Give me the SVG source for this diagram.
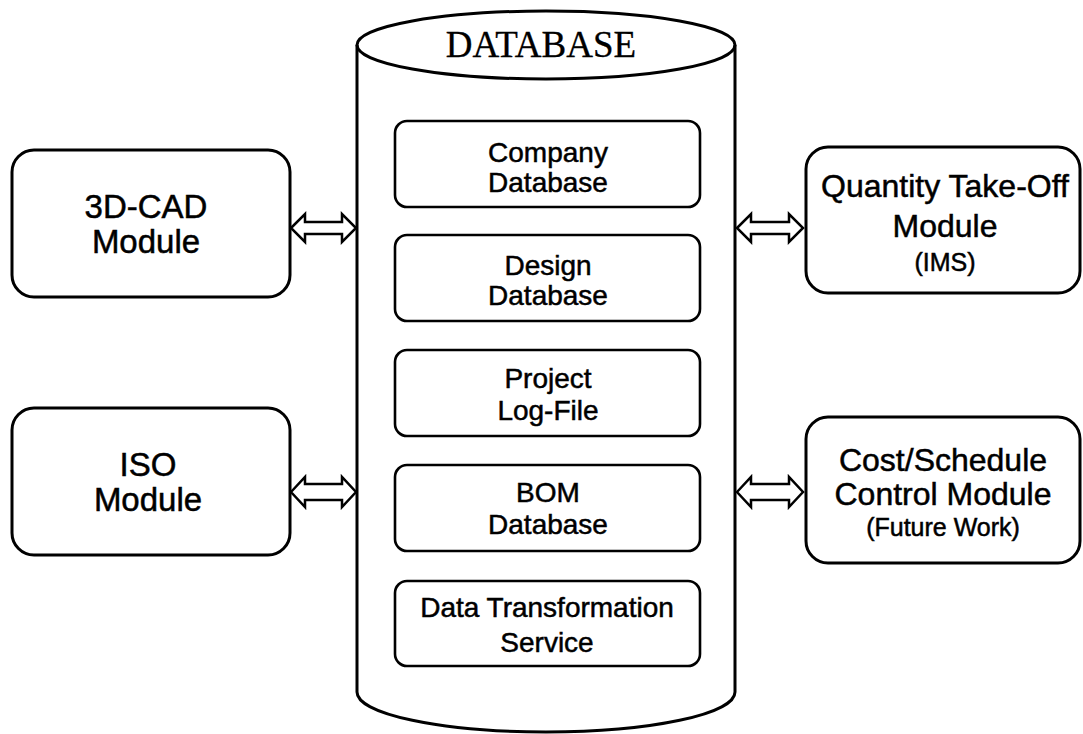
<svg xmlns="http://www.w3.org/2000/svg" width="1083" height="734" viewBox="0 0 1083 734">
  <style>
    .box { fill: #fff; stroke: #000; stroke-width: 3; }
    .inner { fill: #fff; stroke: #000; stroke-width: 2.6; }
    .arrow { fill: #fff; stroke: #000; stroke-width: 2.5; stroke-linejoin: miter; }
    .cyl { fill: none; stroke: #000; stroke-width: 3; }
    text { font-family: "Liberation Sans", Arial, sans-serif; fill: #000; stroke: #000; stroke-width: 0.5; text-anchor: middle; }
    .t-in { font-size: 28px; }
    .t-side { font-size: 33px; }
    .t-right { font-size: 32px; }
    .t-small { font-size: 25px; }
    .t-db { font-family: "Liberation Serif", "Times New Roman", serif; font-size: 37px; stroke-width: 0.3; }
  </style>
  <rect width="1083" height="734" fill="#fff"/>

  <!-- central database cylinder -->
  <g id="database">
    <path class="cyl" d="M357,45 L357,692 A189,40 0 0 0 735,692 L735,45"/>
    <ellipse class="cyl" cx="546" cy="45" rx="189" ry="34" fill="#fff"/>
    <text class="t-db" x="541" y="57">DATABASE</text>
  </g>

  <g id="company-db">
    <rect class="inner" x="395" y="121" width="305" height="86" rx="12"/>
    <text class="t-in" x="548" y="162">Company</text>
    <text class="t-in" x="548" y="192">Database</text>
  </g>
  <g id="design-db">
    <rect class="inner" x="395" y="235" width="305" height="86" rx="12"/>
    <text class="t-in" x="548" y="275">Design</text>
    <text class="t-in" x="548" y="305">Database</text>
  </g>
  <g id="project-log">
    <rect class="inner" x="395" y="350" width="305" height="86" rx="12"/>
    <text class="t-in" x="548" y="388">Project</text>
    <text class="t-in" x="548" y="420">Log-File</text>
  </g>
  <g id="bom-db">
    <rect class="inner" x="395" y="465" width="305" height="86" rx="12"/>
    <text class="t-in" x="548" y="502">BOM</text>
    <text class="t-in" x="548" y="534">Database</text>
  </g>
  <g id="data-transform">
    <rect class="inner" x="395" y="581" width="305" height="85" rx="12"/>
    <text class="t-in" x="547" y="617">Data Transformation</text>
    <text class="t-in" x="547" y="652">Service</text>
  </g>

  <!-- outer modules -->
  <g id="cad-module">
    <rect class="box" x="12" y="150" width="278" height="147" rx="22"/>
    <text class="t-side" x="146" y="218">3D-CAD</text>
    <text class="t-side" x="146" y="253">Module</text>
  </g>
  <g id="iso-module">
    <rect class="box" x="12" y="408" width="278" height="147" rx="22"/>
    <text class="t-side" x="148" y="476">ISO</text>
    <text class="t-side" x="148" y="511">Module</text>
  </g>
  <g id="qto-module">
    <rect class="box" x="806" y="147" width="274" height="146" rx="22"/>
    <text class="t-right" x="945" y="197">Quantity Take-Off</text>
    <text class="t-right" x="945" y="237">Module</text>
    <text class="t-small" x="945" y="271">(IMS)</text>
  </g>
  <g id="cost-module">
    <rect class="box" x="806" y="417" width="274" height="146" rx="22"/>
    <text class="t-right" x="943" y="471">Cost/Schedule</text>
    <text class="t-right" x="943" y="505">Control Module</text>
    <text class="t-small" x="943" y="536">(Future Work)</text>
  </g>

  <!-- two-way links between modules and the database -->
  <g id="connectors">
    <path class="arrow" d="M291,228 L305,214 L305,222 L342,222 L342,214 L356,228 L342,242 L342,234 L305,234 L305,242 Z"/>
    <path class="arrow" d="M737,228 L751,214 L751,222 L789,222 L789,214 L803,228 L789,242 L789,234 L751,234 L751,242 Z"/>
    <path class="arrow" d="M291,492 L305,477 L305,484 L342,484 L342,477 L356,492 L342,507 L342,500 L305,500 L305,507 Z"/>
    <path class="arrow" d="M737,492 L751,477 L751,484 L789,484 L789,477 L803,492 L789,507 L789,500 L751,500 L751,507 Z"/>
  </g>
</svg>
